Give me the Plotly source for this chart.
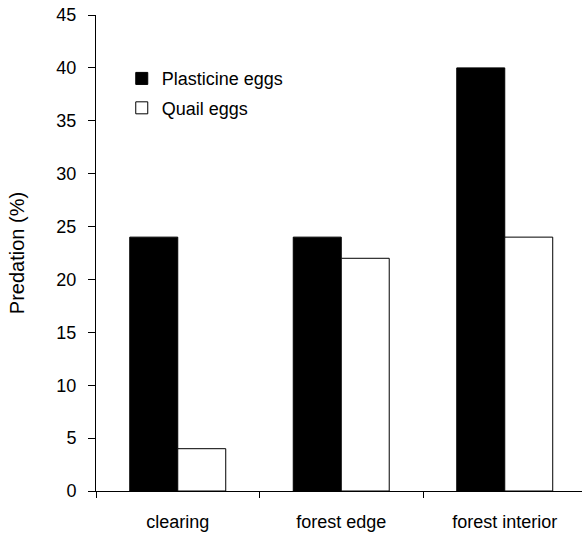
import plotly.graph_objects as go

categories = ["clearing", "forest edge", "forest interior"]
plasticine = [24, 24, 40]
quail = [4, 22, 24]
y_ticks = [0, 5, 10, 15, 20, 25, 30, 35, 40, 45]

fig = go.Figure()
fig.add_trace(go.Bar(x=categories, y=plasticine, name="Plasticine eggs", legendgroup="a",
                     marker=dict(color="black", line=dict(color="black", width=1))))
fig.add_trace(go.Bar(x=categories, y=quail, name="Quail eggs", legendgroup="b",
                     marker=dict(color="white", line=dict(color="black", width=1))))

fig.update_layout(
    width=582, height=534,
    margin=dict(l=96, r=0, t=15, b=43, autoexpand=False),
    paper_bgcolor="white", plot_bgcolor="white",
    font=dict(family="Liberation Sans, Arial, sans-serif", color="black"),
    barmode="group", bargap=0.413, bargroupgap=0,
    legend=dict(x=0.053, y=0.905, xanchor="left", yanchor="top",
                font=dict(size=18), bgcolor="rgba(0,0,0,0)",
                traceorder="grouped", tracegroupgap=3),
    xaxis=dict(range=[-0.5, 2.4725], showline=True, linecolor="black", linewidth=1,
               ticks="outside", ticklen=6, tickcolor="black", tickson="boundaries",
               tickfont=dict(size=18), ticklabelstandoff=14,
               showgrid=False, zeroline=False),
    yaxis=dict(range=[0, 45], tickvals=y_ticks, showline=True, linecolor="black",
               linewidth=1, ticks="outside", ticklen=7, tickcolor="black",
               tickfont=dict(size=18), ticklabelstandoff=8,
               showgrid=False, zeroline=False,
               title=dict(text="Predation (%)", font=dict(size=20), standoff=26)),
)

fig.write_html("out.html", config={"displayModeBar": False},
               post_script="document.body.style.margin='0';")
